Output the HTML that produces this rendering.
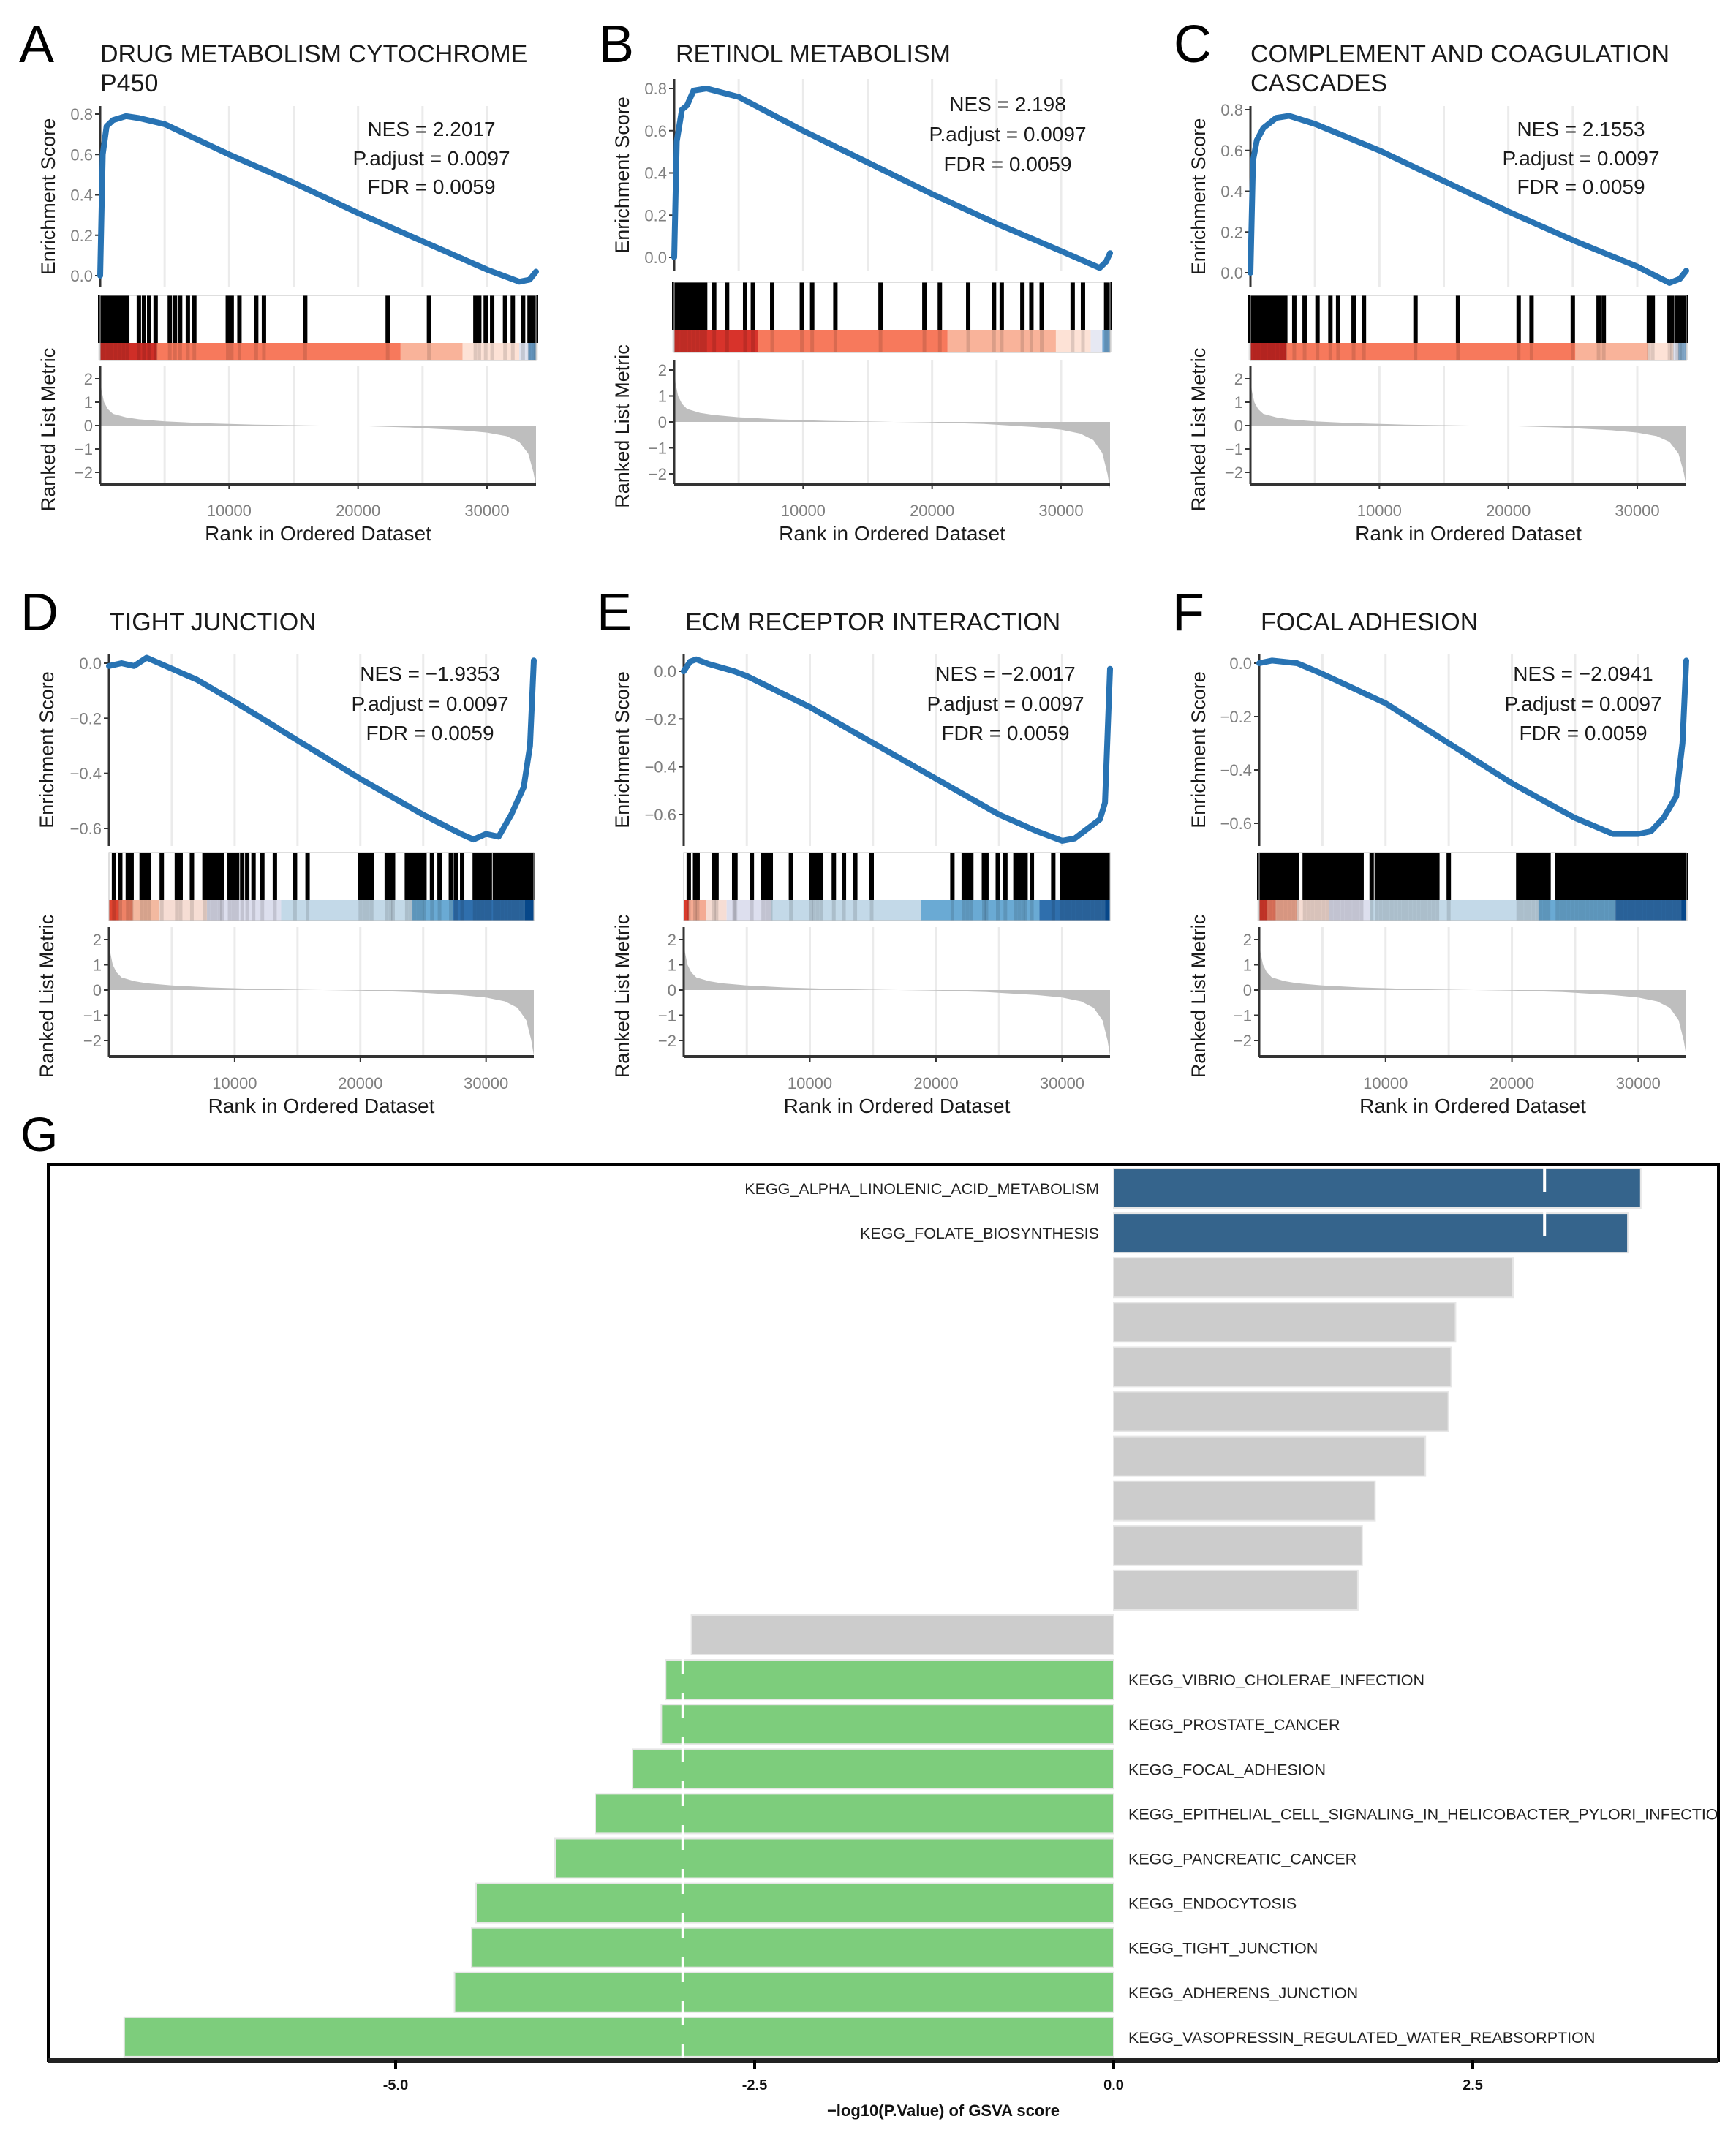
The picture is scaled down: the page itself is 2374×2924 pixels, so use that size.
<!DOCTYPE html>
<html><head><meta charset="utf-8"><style>
html,body{margin:0;padding:0;background:#fff}
svg{display:block;font-family:"Liberation Sans",Arial,sans-serif}
</style></head><body>
<svg id="fig" width="2374" height="2924" viewBox="0 0 2374 2924" xmlns="http://www.w3.org/2000/svg"></svg>
<script>
// ===== GSEA data (ranks in thousands) =====
const rankTicks = [10000, 20000, 30000];
const gridRanks = [5, 10, 15, 20, 25, 30];
const metricRanks = [0, 0.1, 0.3, 0.6, 1, 2, 3, 5, 8, 12, 16, 17, 20, 24, 28, 30, 31.5, 32.5, 33.2, 33.6, 33.8];
const metricValues = [2.4, 1.5, 1.0, 0.7, 0.5, 0.35, 0.27, 0.18, 0.1, 0.04, 0.01, 0, -0.02, -0.08, -0.2, -0.3, -0.45, -0.7, -1.2, -2.0, -2.6];

const esA_r = [0,0.2,0.5,1,2,3,5,10,15,20,25,30,32.5,33.3,33.8];
const esA_v = [0,0.6,0.74,0.77,0.79,0.78,0.75,0.6,0.46,0.31,0.17,0.03,-0.03,-0.02,0.02];
const esB_r = [0,0.2,0.6,1,1.5,2.5,5,10,15,20,25,30,33,33.5,33.8];
const esB_v = [0,0.55,0.7,0.72,0.79,0.8,0.76,0.6,0.45,0.3,0.16,0.03,-0.05,-0.02,0.02];
const esC_r = [0,0.2,0.5,1,2,3,5,10,15,20,25,30,32.5,33.3,33.8];
const esC_v = [0,0.55,0.65,0.71,0.76,0.77,0.73,0.6,0.45,0.3,0.16,0.03,-0.05,-0.03,0.01];
const esD_r = [0,1,2,3,4,5,7,10,15,20,25,28,29,30,31,32,33,33.5,33.8];
const esD_v = [-0.01,0,-0.01,0.02,0,-0.02,-0.06,-0.14,-0.28,-0.42,-0.55,-0.62,-0.64,-0.62,-0.63,-0.55,-0.45,-0.3,0.01];
const esE_r = [0,0.5,1,2,4,5,10,15,20,25,28,30,31,32,33,33.4,33.8];
const esE_v = [0,0.04,0.05,0.03,0,-0.02,-0.15,-0.3,-0.45,-0.6,-0.67,-0.71,-0.7,-0.66,-0.62,-0.55,0.01];
const esF_r = [0,1,3,5,10,15,20,25,28,30,31,32,33,33.5,33.8];
const esF_v = [0,0.01,0,-0.04,-0.15,-0.3,-0.45,-0.58,-0.64,-0.64,-0.63,-0.58,-0.5,-0.3,0.01];

const hitsA = [0,0.3,0.6,0.9,1.2,1.5,1.8,2.1,3.0,3.4,3.8,4.3,5.4,5.8,6.2,6.8,7.3,9.9,10.2,10.8,12.1,12.7,15.9,22.3,25.5,29.1,29.4,29.9,30.4,31.4,32.0,32.8,33.3,33.6,33.8];
const hitsB = [0,0.3,0.6,0.9,1.2,1.5,1.8,2.1,2.4,3.1,4.1,5.5,6.1,7.6,9.9,10.7,12.5,16.0,19.4,20.6,22.8,24.8,25.4,27.0,27.7,28.5,30.9,31.7,33.5,33.8];
const hitsC = [0,0.3,0.6,0.9,1.2,1.5,1.8,2.1,2.4,2.7,3.4,4.2,5.2,6.2,6.8,8.0,8.8,12.8,16.1,20.8,21.8,25.0,27.0,27.4,30.9,31.2,32.5,32.7,33.1,33.3,33.5,33.8];
const hitsD = [0.4,0.9,1.5,1.8,2.6,2.9,3.2,4.2,5.4,5.7,6.6,7.6,7.9,8.2,8.5,8.8,9.0,9.6,9.9,10.2,10.6,11.0,11.5,12.2,13.2,14.8,15.8,20.0,20.3,20.6,20.9,22.1,22.4,22.6,23.7,24.0,24.3,24.6,24.9,25.1,25.7,26.3,27.2,27.6,28.1,29.1,29.4,29.7,30.0,30.3,30.7,31.0,31.3,31.6,31.9,32.2,32.5,32.8,33.1,33.4,33.7];
const hitsE = [0.4,0.9,1.1,2.4,2.6,4.0,4.1,5.4,6.3,6.6,6.9,8.5,10.1,10.3,10.6,10.9,11.9,12.7,13.6,14.9,21.3,22.2,22.5,22.8,23.8,24.0,24.9,25.5,26.3,26.6,26.9,27.1,27.6,29.3,30.0,30.3,30.6,30.9,31.2,31.5,31.8,32.1,32.4,32.7,33.0,33.3,33.6];
const hitsF = [0,0.3,0.6,0.9,1.2,1.5,1.8,2.1,2.4,2.7,3.0,3.6,3.9,4.2,4.5,4.8,5.1,5.4,5.7,6.0,6.3,6.6,6.9,7.2,7.5,7.8,8.1,8.9,9.3,9.6,9.9,10.2,10.5,10.8,11.1,11.4,11.7,12.0,12.3,12.6,12.9,13.2,13.5,13.8,14.1,15.0,20.5,20.8,21.1,21.4,21.7,22.0,22.3,22.6,22.9,23.6,23.9,24.2,24.5,24.8,25.1,25.4,25.7,26.0,26.3,26.6,26.9,27.2,27.5,27.8,28.1,28.4,28.7,29.0,29.3,29.6,29.9,30.2,30.5,30.8,31.1,31.4,31.7,32.0,32.3,32.6,32.9,33.2,33.5,33.8];

const stripA_start = [0,4.4,23.3,28.1,32.5,33.2];
const stripA_end = [4.4,23.3,28.1,32.5,33.2,33.8];
const stripA_col = ["#cf2e27","#f7795c","#f9b39a","#fde2d6","#dfe3f0","#6ea3cf"];
const stripB_start = [0,6.5,21.2,29.6,32.3,33.2];
const stripB_end = [6.5,21.2,29.6,32.3,33.2,33.8];
const stripB_col = ["#d8332b","#f7795c","#f9b39a","#fde2d6","#e6e8f3","#6ea3cf"];
const stripC_start = [0,2.8,25.2,30.8,32.8,33.2];
const stripC_end = [2.8,25.2,30.8,32.8,33.2,33.8];
const stripC_col = ["#cc2a25","#f7795c","#f9b39a","#fde2d6","#e1e4f1","#8fb8dc"];
const stripD_start = [0,0.8,1.9,4.0,7.8,13.7,24.1,27.4,33.1];
const stripD_end = [0.8,1.9,4.0,7.8,13.7,24.1,27.4,33.1,33.8];
const stripD_col = ["#e0442f","#ee8266","#f3b9a0","#f6ddd4","#dddfee","#c3d9e8","#6aaad4","#2f6fad","#08519c"];
const stripE_start = [0,0.4,1.8,3.4,6.9,18.8,28.2,33.4];
const stripE_end = [0.4,1.8,3.4,6.9,18.8,28.2,33.4,33.8];
const stripE_col = ["#d93b2c","#f4ab93","#f6ddd4","#dddfee","#c3d9e8","#6aaad4","#2f6fad","#08519c"];
const stripF_start = [0,0.6,1.3,3.0,5.5,8.8,22.1,28.2,33.4];
const stripF_end = [0.6,1.3,3.0,5.5,8.8,22.1,28.2,33.4,33.8];
const stripF_col = ["#d93b2c","#f07c62","#f4ab93","#f6ddd4","#dddfee","#c3d9e8","#6aaad4","#2f6fad","#08519c"];

// ===== GSVA bar data =====
const gsvaLabels = ["KEGG_ALPHA_LINOLENIC_ACID_METABOLISM","KEGG_FOLATE_BIOSYNTHESIS","","","","","","","","","",
 "KEGG_VIBRIO_CHOLERAE_INFECTION","KEGG_PROSTATE_CANCER","KEGG_FOCAL_ADHESION","KEGG_EPITHELIAL_CELL_SIGNALING_IN_HELICOBACTER_PYLORI_INFECTION",
 "KEGG_PANCREATIC_CANCER","KEGG_ENDOCYTOSIS","KEGG_TIGHT_JUNCTION","KEGG_ADHERENS_JUNCTION","KEGG_VASOPRESSIN_REGULATED_WATER_REABSORPTION"];
const gsvaValues = [3.67,3.58,2.78,2.38,2.35,2.33,2.17,1.82,1.73,1.70,-2.94,-3.12,-3.15,-3.35,-3.61,-3.89,-4.44,-4.47,-4.59,-6.89];
const gsvaGroup = ["up","up","ns","ns","ns","ns","ns","ns","ns","ns","ns","down","down","down","down","down","down","down","down","down"];
const gsvaTicks = [-5.0,-2.5,0.0,2.5];
const gsvaTickLabels = ["-5.0","-2.5","0.0","2.5"];
const gsvaThreshold = [3.0,-3.0];
</script>
<script>
const NS="http://www.w3.org/2000/svg";
const svg=document.getElementById('fig');
function mk(tag,attrs,parent){const e=document.createElementNS(NS,tag);for(const k in attrs)e.setAttribute(k,attrs[k]);(parent||svg).appendChild(e);return e;}
function txt(s,attrs,parent){const e=mk('text',attrs,parent);e.textContent=s;return e;}

const R2=7; // row-2 vertical adjustment
const panels=[
 {id:'a',letter:'A',lx:26,lb:85,title:['DRUG METABOLISM CYTOCHROME','P450'],tx:137,tb:85,x0:137,xr:733,dy:0,
  es:[145,393],esMap:[0.8,156,0,377],esTicks:[0,0.2,0.4,0.6,0.8],rug:[404,469,493],rk:[501,662],rkMap:[582,518],
  nes:['NES = 2.2017','P.adjust = 0.0097','FDR = 0.0059'],nx:590,nb:[186,226,265],eslx:67,
  r:esA_r,v:esA_v,hits:hitsA,ss:stripA_start,se:stripA_end,sc:stripA_col},
 {id:'b',letter:'B',lx:819,lb:85,title:['RETINOL METABOLISM'],tx:924,tb:85,x0:922,xr:1518,dy:0,
  es:[108,371],esMap:[0.8,121,0,352],esTicks:[0,0.2,0.4,0.6,0.8],rug:[386,451,482],rk:[492,662],rkMap:[577,506],
  nes:['NES = 2.198','P.adjust = 0.0097','FDR = 0.0059'],nx:1378,nb:[152,193,234],eslx:852,
  r:esB_r,v:esB_v,hits:hitsB,ss:stripB_start,se:stripB_end,sc:stripB_col},
 {id:'c',letter:'C',lx:1605,lb:85,title:['COMPLEMENT AND COAGULATION','CASCADES'],tx:1710,tb:85,x0:1710,xr:2306,dy:0,
  es:[145,393],esMap:[0.8,150,0,373],esTicks:[0,0.2,0.4,0.6,0.8],rug:[404,469,493],rk:[501,662],rkMap:[582,518],
  nes:['NES = 2.1553','P.adjust = 0.0097','FDR = 0.0059'],nx:2162,nb:[186,226,265],eslx:1640,
  r:esC_r,v:esC_v,hits:hitsC,ss:stripC_start,se:stripC_end,sc:stripC_col},
 {id:'d',letter:'D',lx:28,lb:859,title:['TIGHT JUNCTION'],tx:150,tb:859,x0:149,xr:730,dy:R2,
  es:[887,1150],esMap:[0,900,-0.6,1126],esTicks:[0,-0.2,-0.4,-0.6],rug:[1159,1224,1252],rk:[1261,1438],rkMap:[1347,1278],
  nes:['NES = \u22121.9353','P.adjust = 0.0097','FDR = 0.0059'],nx:588,nb:[924,965,1005],eslx:65,
  r:esD_r,v:esD_v,hits:hitsD,ss:stripD_start,se:stripD_end,sc:stripD_col},
 {id:'e',letter:'E',lx:816,lb:859,title:['ECM RECEPTOR INTERACTION'],tx:937,tb:859,x0:935,xr:1518,dy:R2,
  es:[887,1150],esMap:[0,911,-0.6,1107],esTicks:[0,-0.2,-0.4,-0.6],rug:[1159,1224,1252],rk:[1261,1438],rkMap:[1347,1278],
  nes:['NES = \u22122.0017','P.adjust = 0.0097','FDR = 0.0059'],nx:1375,nb:[924,965,1005],eslx:852,
  r:esE_r,v:esE_v,hits:hitsE,ss:stripE_start,se:stripE_end,sc:stripE_col},
 {id:'f',letter:'F',lx:1603,lb:859,title:['FOCAL ADHESION'],tx:1724,tb:859,x0:1722,xr:2306,dy:R2,
  es:[887,1150],esMap:[0,900,-0.6,1119],esTicks:[0,-0.2,-0.4,-0.6],rug:[1159,1224,1252],rk:[1261,1438],rkMap:[1347,1278],
  nes:['NES = \u22122.0941','P.adjust = 0.0097','FDR = 0.0059'],nx:2165,nb:[924,965,1005],eslx:1640,
  r:esF_r,v:esF_v,hits:hitsF,ss:stripF_start,se:stripF_end,sc:stripF_col}
];
const NMAX=33.8;

panels.forEach(p=>{
  const g=mk('g',{transform:`translate(0,${p.dy})`});
  
  
  const X=k=>p.x0+(k/NMAX)*(p.xr-p.x0);
  const Yes=v=>p.esMap[1]+(v-p.esMap[0])*(p.esMap[3]-p.esMap[1])/(p.esMap[2]-p.esMap[0]);
  const unit=(p.rkMap[0]-p.rkMap[1])/2;
  const Yrk=v=>p.rkMap[0]-v*unit;
  const L=txt(p.letter,{x:p.lx,y:p.lb-(p.dy?p.dy-3:0),'font-size':72,fill:'#000'},g);
  
  
  p.title.forEach((t,i)=>{const e=txt(t,{x:p.tx,y:p.tb+i*40-(p.dy?p.dy-3:0),'font-size':34,fill:'#1a1a1a'},g);
    
    });
  gridRanks.forEach(k=>{
    mk('line',{x1:X(k),x2:X(k),y1:p.es[0],y2:p.es[1],stroke:'#ebebeb','stroke-width':3},g);
    mk('line',{x1:X(k),x2:X(k),y1:p.rk[0],y2:p.rk[1],stroke:'#ebebeb','stroke-width':3},g);
  });
  mk('line',{x1:p.x0,x2:p.x0,y1:p.es[0],y2:p.es[1],stroke:'#333','stroke-width':3},g);
  p.esTicks.forEach(t=>{
    const y=Yes(t);
    mk('line',{x1:p.x0-7,x2:p.x0,y1:y,y2:y,stroke:'#333','stroke-width':2},g);
    const lbl=t===0?'0.0':(t<0?'\u2212'+Math.abs(t).toFixed(1):t.toFixed(1));
    const e=txt(lbl,{x:p.x0-10,y:y+8,'font-size':22,fill:'#7f7f7f','text-anchor':'end'},g);
    
    
  });
  const esl=txt('Enrichment Score',{x:0,y:0,'font-size':27,fill:'#1a1a1a','text-anchor':'middle',transform:`translate(${p.eslx+8},${(p.es[0]+p.es[1])/2}) rotate(-90)`},g);
  
  
  let d='';p.r.forEach((k,i)=>{d+=(i?'L':'M')+X(k).toFixed(1)+','+Yes(p.v[i]).toFixed(1);});
  const path=mk('path',{d:d,fill:'none',stroke:'#2873b3','stroke-width':8,'stroke-linejoin':'round','stroke-linecap':'round'},g);
  
  
  p.nes.forEach((s,i)=>{const e=txt(s,{x:p.nx,y:p.nb[i],'font-size':28,fill:'#1a1a1a','text-anchor':'middle'},g);
    
    });
  p.ss.forEach((s,i)=>{const r=mk('rect',{x:X(s),y:p.rug[1],width:Math.max(1,X(p.se[i])-X(s)),height:p.rug[2]-p.rug[1],fill:p.sc[i]},g);
    
    });
  p.hits.forEach(k=>{const l=mk('line',{x1:X(k),x2:X(k),y1:p.rug[0],y2:p.rug[1],stroke:'#000','stroke-width':6},g);
    
    
    mk('line',{x1:X(k),x2:X(k),y1:p.rug[1],y2:p.rug[2],stroke:'#000','stroke-width':5,'stroke-opacity':0.12},g);});
  mk('rect',{x:p.x0,y:p.rug[0],width:p.xr-p.x0,height:p.rug[2]-p.rug[0],fill:'none',stroke:'#bdbdbd','stroke-width':1},g);
  let a='M'+X(metricRanks[0])+','+Yrk(0);
  metricRanks.forEach((k,i)=>{a+='L'+X(k).toFixed(1)+','+Yrk(metricValues[i]).toFixed(1);});
  a+='L'+X(metricRanks[metricRanks.length-1])+','+Yrk(0)+'Z';
  const ar=mk('path',{d:a,fill:'#bebebe',stroke:'none'},g);
  
  
  mk('line',{x1:p.x0,x2:p.x0,y1:p.rk[0],y2:p.rk[1],stroke:'#333','stroke-width':3},g);
  mk('line',{x1:p.x0,x2:p.xr,y1:p.rk[1],y2:p.rk[1],stroke:'#333','stroke-width':4},g);
  [2,1,0,-1,-2].forEach(t=>{const y=Yrk(t);
    mk('line',{x1:p.x0-7,x2:p.x0,y1:y,y2:y,stroke:'#333','stroke-width':2},g);
    const e=txt(t<0?'\u2212'+Math.abs(t):String(t),{x:p.x0-10,y:y+8,'font-size':22,fill:'#7f7f7f','text-anchor':'end'},g);
    
    });
  rankTicks.forEach(t=>{const x=X(t/1000);
    mk('line',{x1:x,x2:x,y1:p.rk[1],y2:p.rk[1]+7,stroke:'#333','stroke-width':2},g);
    const e=txt(String(t),{x:x,y:p.rk[1]+44,'font-size':22,fill:'#7f7f7f','text-anchor':'middle'},g);
    
    });
  const rl=txt('Ranked List Metric',{x:0,y:0,'font-size':27,fill:'#1a1a1a','text-anchor':'middle',transform:`translate(${p.eslx+8},${(p.rk[0]+p.rk[1])/2+6}) rotate(-90)`},g);
  
  
  const xt=txt('Rank in Ordered Dataset',{x:(p.x0+p.xr)/2,y:p.rk[1]+77,'font-size':28,fill:'#1a1a1a','text-anchor':'middle'},g);
  
  
});

// ===== Panel G =====
(function(){
  const g=mk('g',{});
  
  
  const L=txt('G',{x:28,y:1574,'font-size':66,fill:'#000'},g);
  
  
  const box={l:66,r:2350,t:1592,b:2818};
  const zero=1523, ppu=196.4;
  const X=v=>zero+v*ppu;
  const top=1598, pitch=61.1, bh=54;
  const cols={up:'#35648c',ns:'#cccccc',down:'#7dcd7c'};
  const defs=mk('defs',{},g);
  const cp=mk('clipPath',{id:'boxclip'},defs);
  mk('rect',{x:box.l,y:box.t,width:box.r-box.l,height:box.b-box.t},cp);
  const inner=mk('g',{'clip-path':'url(#boxclip)'},g);
  gsvaValues.forEach((v,i)=>{
    const y=top+i*pitch;
    const x1=Math.min(X(0),X(v)), w=Math.abs(X(v)-X(0));
    const r=mk('rect',{x:x1,y:y,width:w,height:bh,fill:cols[gsvaGroup[i]],stroke:'#e6e6e6','stroke-width':2},inner);
    
    
    const lab=gsvaLabels[i];
    if(lab){
      const t=txt(lab,{x:v>0?X(0)-20:X(0)+20,y:y+bh/2+8,'font-size':21.5,fill:'#222','text-anchor':v>0?'end':'start'},inner);
      
      
    }
  });
  gsvaThreshold.forEach(v=>{const l=mk('line',{x1:X(v),x2:X(v),y1:box.t+4,y2:box.b-4,stroke:'#fff','stroke-width':4,'stroke-dasharray':'34 26'},inner);
    
    });
  const br=mk('rect',{x:box.l,y:box.t,width:box.r-box.l,height:box.b-box.t,fill:'none',stroke:'#000','stroke-width':4},g);
  
  
  mk('line',{x1:box.l,x2:box.r,y1:box.b,y2:box.b,stroke:'#222','stroke-width':6},g);
  gsvaTicks.forEach((t,i)=>{const x=X(t);
    mk('line',{x1:x,x2:x,y1:box.b,y2:box.b+12,stroke:'#000','stroke-width':4},g);
    const e=txt(gsvaTickLabels[i],{x:x,y:box.b+40,'font-size':20,'font-weight':'bold',fill:'#111','text-anchor':'middle'},g);
    
    });
  const xt=txt('\u2212log10(P.Value) of GSVA score',{x:1290,y:box.b+76,'font-size':22,'font-weight':'bold',fill:'#111','text-anchor':'middle'},g);
  
  
})();
</script>
</body></html>
